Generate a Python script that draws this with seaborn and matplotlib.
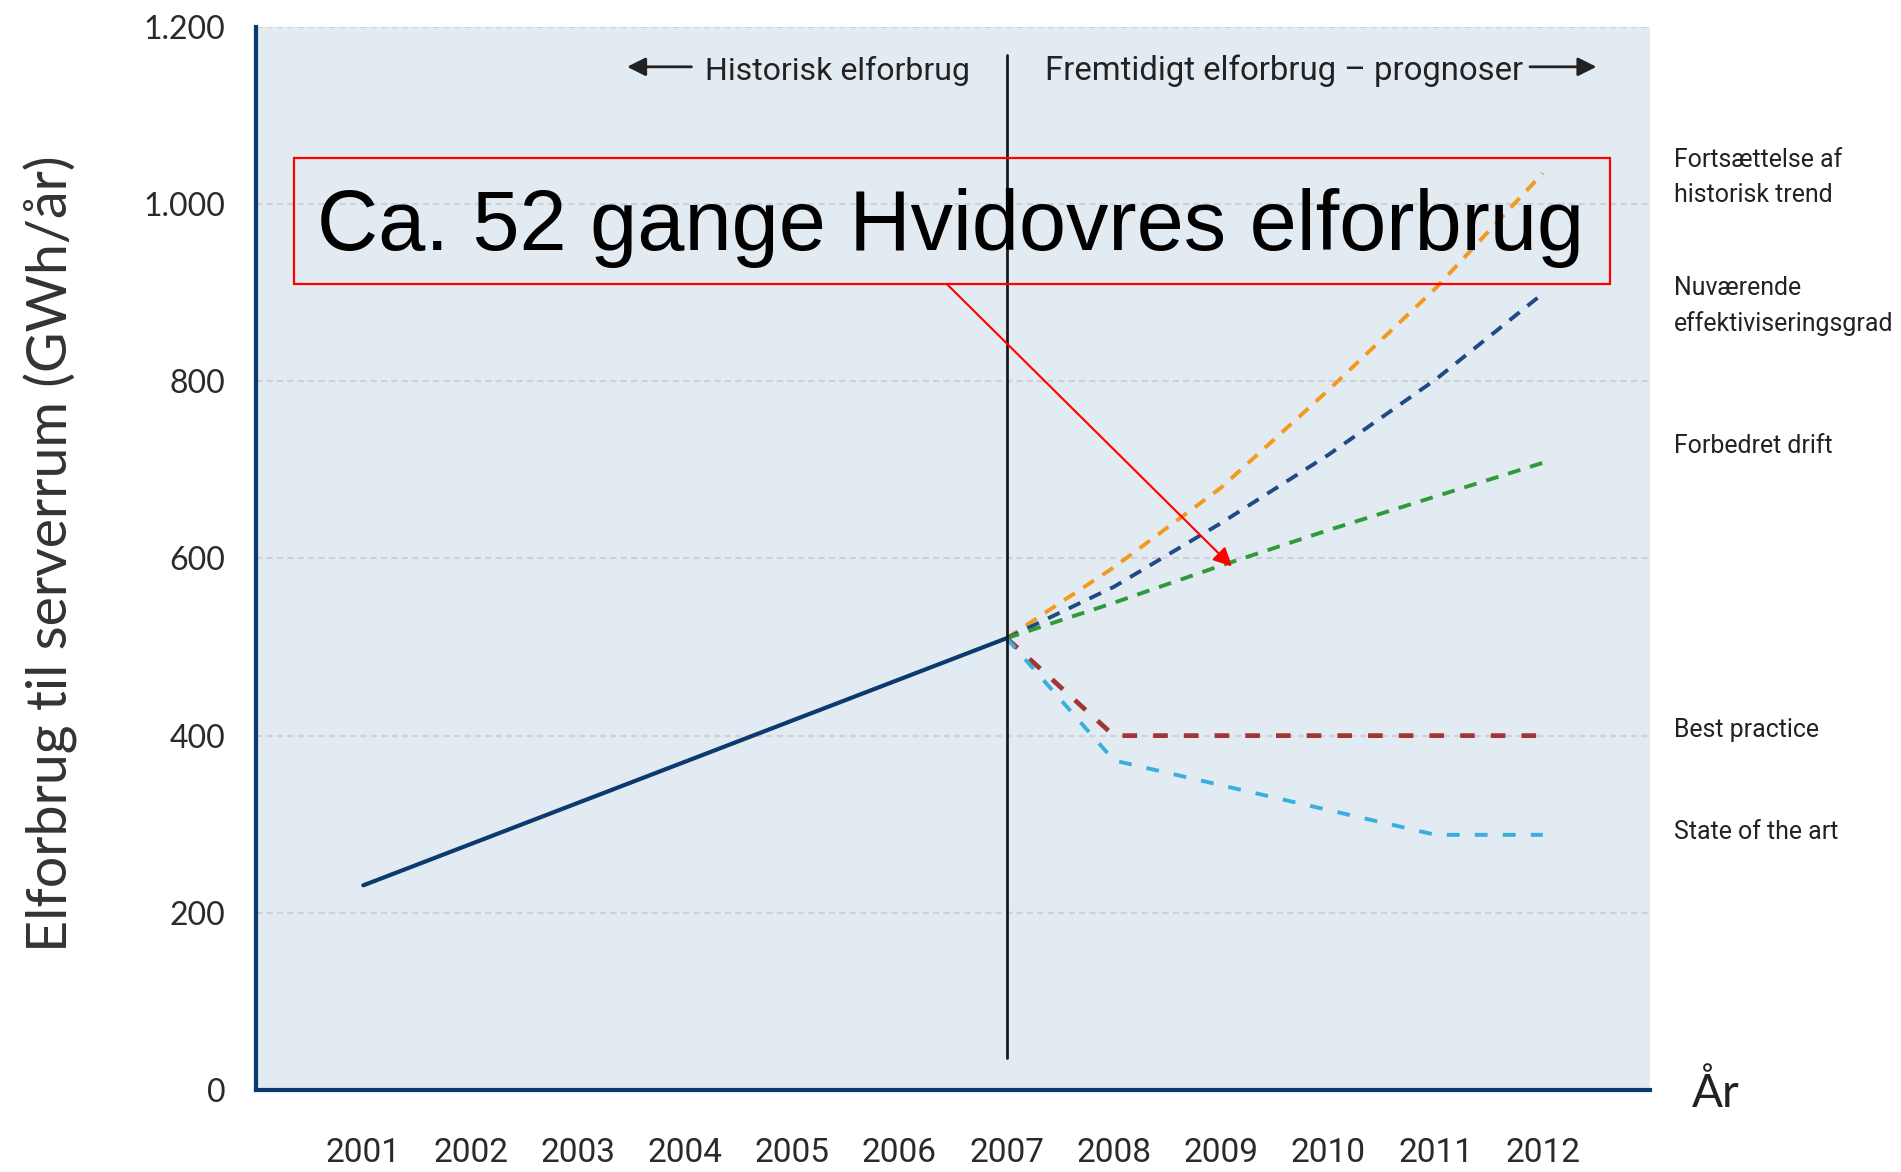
import matplotlib
matplotlib.use("Agg")
import matplotlib.pyplot as plt
from matplotlib.patches import Rectangle
import seaborn as sns
import pandas as pd

# data (GWh/år)
hist_years = [2001, 2007]
hist_values = [231, 510]

prog_years = [2007, 2008, 2009, 2010, 2011, 2012]
fortsaettelse = [510, 590, 680, 790, 905, 1035]
nuvaerende = [510, 568, 640, 717, 802, 899]
forbedret = [510, 550, 592, 632, 670, 708]
best_practice = [510, 400, 400, 400, 400, 400]
state_of_art = [510, 372, 344, 316, 288, 288]

year_ticks = list(range(2000, 2014))
year_labels = [""] + [str(y) for y in range(2001, 2013)] + [""]
y_ticks = [0, 200, 400, 600, 800, 1000, 1200]
y_labels = ["0", "200", "400", "600", "800", "1.000", "1.200"]

scenario_labels = ["Fortsættelse af\nhistorisk trend", "Nuværende\neffektiviseringsgrad",
                   "Forbedret drift", "Best practice", "State of the art"]
scenario_label_y = [1030, 885, 727, 406, 291]

navy = "#0B3A6E"
cond = ["Roboto", "DejaVu Sans"]
geo = ["Lato", "DejaVu Sans"]

sns.set_style("white")
plt.rcParams["font.family"] = ["Lato", "DejaVu Sans"]

fig = plt.figure(figsize=(19.01, 11.72), dpi=100)
ax = fig.add_axes([0.1347, 0.0700, 0.7333, 0.9070])
ax.set_facecolor("#E2EAF2")
renderer = fig.canvas.get_renderer()


def fit_width(t, px):
    # skaler skriftstørrelsen så teksten får den ønskede bredde
    w = t.get_window_extent(renderer).width
    t.set_fontsize(t.get_fontsize() * px / w)
    return t.get_fontsize()


# prognoser
series = [
    (fortsaettelse, "#F39A1E", 2.8, (3.3, 2.6)),
    (nuvaerende, "#1F4A85", 2.8, (3.3, 2.6)),
    (forbedret, "#2E9A3A", 2.8, (3.3, 2.6)),
    (best_practice, "#A33434", 3.4, (3.1, 3.4)),
    (state_of_art, "#3BAEE0", 2.8, (3.3, 3.9)),
]
for vals, col, lw, dash in series:
    df = pd.DataFrame({"aar": prog_years, "gwh": vals})
    sns.lineplot(data=df, x="aar", y="gwh", color=col, lw=lw,
                 linestyle=(0, dash), ax=ax, zorder=3)

# historisk
hist = pd.DataFrame({"aar": hist_years, "gwh": hist_values})
sns.lineplot(data=hist, x="aar", y="gwh", color=navy, lw=3.0, ax=ax, zorder=4)

# skillelinje ved 2007
ax.plot([2007, 2007], [36, 1168], color="#1a1a1a", lw=2.0, zorder=5)

ax.set_xlim(2000, 2013)
ax.set_ylim(0, 1200)
ax.set_xticks(year_ticks)
ax.set_xticklabels(year_labels, family=cond, fontsize=24, color="#2a2a2a")
ax.set_yticks(y_ticks)
ax.set_yticklabels(y_labels, family=geo, fontsize=23, color="#2a2a2a")
ax.tick_params(axis="x", direction="out", length=11, width=2.2, color=navy, pad=23)
ax.tick_params(axis="y", direction="out", length=9, width=2.2, color=navy, pad=13)
ax.set_xlabel("")
ax.set_ylabel("")

ax.yaxis.grid(True, color="#CDD2D8", lw=1.5, linestyle=(0, (3, 2)))
ax.xaxis.grid(False)
ax.set_axisbelow(True)
for s in ["top", "right"]:
    ax.spines[s].set_visible(False)
for s in ["left", "bottom"]:
    ax.spines[s].set_color(navy)
    ax.spines[s].set_linewidth(3)

# overskrifter
h1 = ax.text(2006.66, 1140, "Historisk elforbrug", ha="right", va="baseline",
             family=cond, fontsize=28, color="#222222")
fit_width(h1, 264)
h2 = ax.text(2007.36, 1140, "Fremtidigt elforbrug – prognoser", ha="left", va="baseline",
             family=cond, fontsize=28, color="#222222")
fit_width(h2, 477)
ax.annotate("", xy=(2003.46, 1155), xytext=(2004.06, 1155),
            arrowprops=dict(arrowstyle="-|>", color="#222222", lw=2, mutation_scale=28,
                            shrinkA=0, shrinkB=0))
ax.annotate("", xy=(2012.50, 1155), xytext=(2011.88, 1155),
            arrowprops=dict(arrowstyle="-|>", color="#222222", lw=2, mutation_scale=28,
                            shrinkA=0, shrinkB=0))

# scenarie-etiketter til højre
probe = ax.text(0, 0, "effektiviseringsgrad", family=cond, fontsize=23)
lab_size = fit_width(probe, 221)
probe.remove()
for lab, yv in zip(scenario_labels, scenario_label_y):
    ax.text(2013.22, yv, lab, ha="left", va="center", family=cond, fontsize=lab_size,
            color="#222222", linespacing=1.55, clip_on=False)

# kommentar-boks
ax.add_patch(Rectangle((2000.35, 910), 12.28, 142, fill=False, edgecolor="#FF0000",
                       lw=1.6, zorder=6))
ax.text(2006.48, 948, "Ca. 52 gange Hvidovres elforbrug", ha="center", va="baseline",
        family=["Liberation Sans", "DejaVu Sans"], fontsize=61, color="black", zorder=7)
ax.annotate("", xy=(2009.10, 591), xytext=(2006.44, 910),
            arrowprops=dict(arrowstyle="-|>", color="#FF0000", lw=1.5, mutation_scale=28,
                            shrinkA=0, shrinkB=0), zorder=7)

fig.text(51 / 1901, 1 - 554 / 1172, "Elforbrug til serverrum (GWh/år)", rotation=90,
         ha="center", va="center", family=geo, fontsize=40, color="#333333")
fig.text(1692 / 1901, 1 - 1107 / 1172, "År", ha="left", va="baseline",
         family=geo, fontsize=33, color="#222222")

fig.savefig("out.png", dpi=100)
